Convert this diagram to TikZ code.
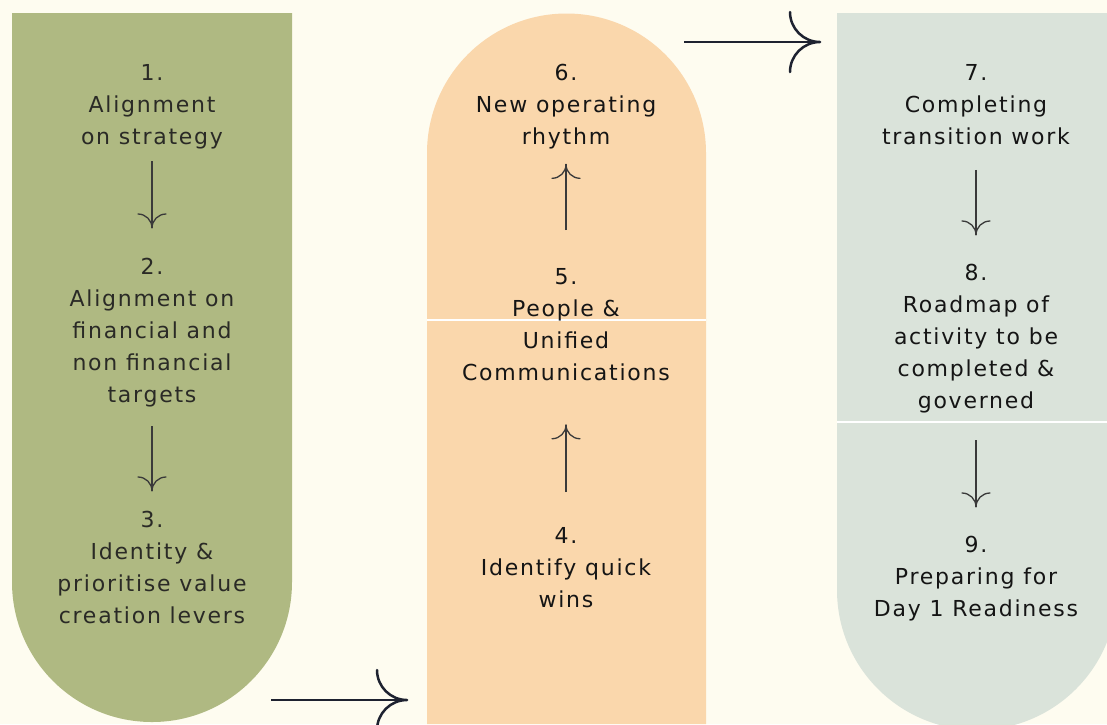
\documentclass[tikz,border=0pt]{standalone}
\usepackage{fontspec}
\newfontfamily\stepfont{DejaVu Sans}[LetterSpace=8]
\usetikzlibrary{arrows.meta}

% Curled arrow head: two quarter-circle barbs meeting at the tip
\pgfdeclarearrow{
  name = Curl,
  defaults = { length = 14pt },
  parameters = { \the\pgfarrowlength },
  setup code = {
    \pgfarrowssettipend{0pt}
    \pgfarrowssetlineend{0pt}
    \pgfarrowshullpoint{0pt}{0pt}
    \pgfarrowshullpoint{-\pgfarrowlength}{\pgfarrowlength}
    \pgfarrowshullpoint{-\pgfarrowlength}{-\pgfarrowlength}
    \pgfarrowssavethe\pgfarrowlength
  },
  drawing code = {
    \pgfsetroundcap
    \pgfpathmoveto{\pgfqpoint{-\pgfarrowlength}{\pgfarrowlength}}
    \pgfpatharc{180}{270}{\pgfarrowlength}
    \pgfpathmoveto{\pgfqpoint{-\pgfarrowlength}{-\pgfarrowlength}}
    \pgfpatharc{180}{90}{\pgfarrowlength}
    \pgfusepathqstroke
  }
}

\definecolor{paper}{HTML}{FEFCF0}
\definecolor{olive}{HTML}{AFB982}
\definecolor{peach}{HTML}{FAD7AC}
\definecolor{sage}{HTML}{DAE3DA}
\definecolor{ink}{HTML}{151515}
\definecolor{oliveink}{HTML}{2A2A26}
\definecolor{navy}{HTML}{1E2230}
\definecolor{thinline}{HTML}{3A3A3A}

\begin{document}
\begin{tikzpicture}[x=1pt, y=-1pt,
  steptext/.style={font=\stepfont\fontsize{22}{32}\selectfont, align=center,
    inner sep=0pt, anchor=north, text=ink},
  smallarrow/.style={draw=thinline, line width=1.3pt, -{Curl[length=14pt]}},
  bigarrow/.style={draw=navy, line width=2.5pt, -{Curl[length=30pt]}},
  seam/.style={draw=white, line width=1.2pt}]

\useasboundingbox (0,0) rectangle (1107,724);
\clip (0,0) rectangle (1107,724);
\fill[paper] (0,0) rectangle (1107,724);

% column 1: square top, round bottom
\fill[olive] (12,13) -- (292,13) -- (292,582)
  arc[start angle=0, end angle=180, radius=140] -- cycle;

% column 2: round top, open bottom
\fill[peach] (427,724) -- (427,153)
  arc[start angle=180, end angle=360, radius=139.5] -- (706,724) -- cycle;
\draw[seam] (427,320) -- (706,320);

% column 3: square top, round bottom
\fill[sage] (837,13) -- (1117,13) -- (1117,590)
  arc[start angle=0, end angle=180, radius=140] -- cycle;
\draw[seam] (837,422) -- (1107,422);

% step texts
\node[steptext, text=oliveink] (s1) at (152,64) {1.\\Alignment\\on strategy};
\node[steptext, text=oliveink] (s2) at (152,258) {2.\\Alignment on\\financial and\\non financial\\targets};
\node[steptext, text=oliveink] (s3) at (152,511) {3.\\Identity \&\\prioritise value\\creation levers};

\node[steptext] (s4) at (566,527) {4.\\Identify quick\\wins};
\node[steptext] (s5) at (566,268) {5.\\People \&\\Unified\\Communications};
\node[steptext] (s6) at (566,64) {6.\\New operating\\rhythm};

\node[steptext] (s7) at (976,64) {7.\\Completing\\transition work};
\node[steptext] (s8) at (976,264) {8.\\Roadmap of\\activity to be\\completed \&\\governed};
\node[steptext] (s9) at (976,536) {9.\\Preparing for\\Day 1 Readiness};

% arrows inside the columns
\draw[smallarrow, shorten <=12pt, shorten >=30pt] (s1) -- (s2);
\draw[smallarrow, shorten <=19pt, shorten >=20pt] (s2) -- (s3);
\draw[smallarrow, shorten <=35pt, shorten >=44pt] (s4) -- (s5);
\draw[smallarrow, shorten <=38pt, shorten >=15pt] (s5) -- (s6);
\draw[smallarrow, shorten <=25pt, shorten >=29pt] (s7) -- (s8);
\draw[smallarrow, shorten <=27pt, shorten >=29pt] (s8) -- (s9);

% arrows between the columns
\coordinate (c1out) at (271,700);
\coordinate (c2in) at (407,700);
\coordinate (c2out) at (684,42);
\coordinate (c3in) at (820,42);
\draw[bigarrow] (c1out) -- (c2in);
\draw[bigarrow] (c2out) -- (c3in);
\end{tikzpicture}
\end{document}
